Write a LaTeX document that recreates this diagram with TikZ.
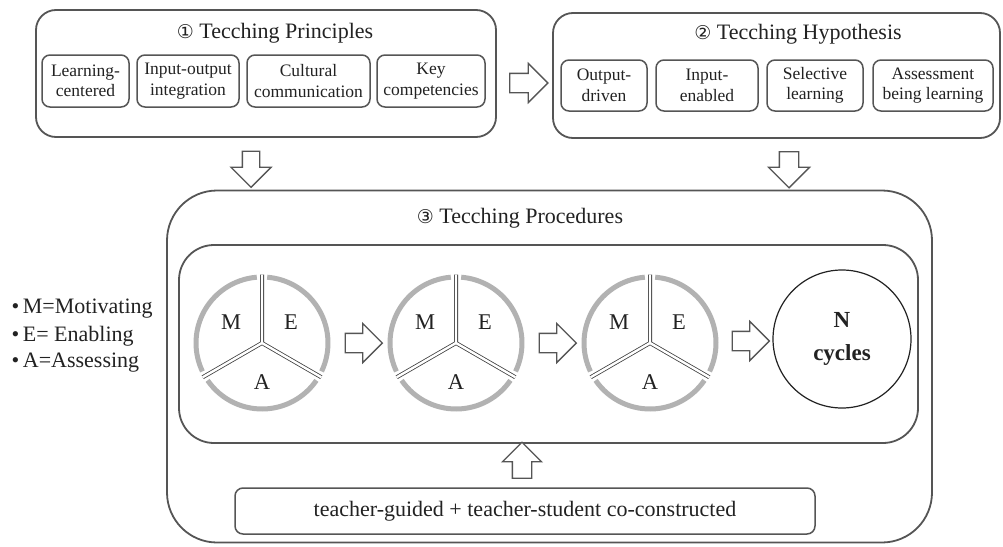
\documentclass[tikz,border=0pt]{standalone}
\usepackage{fontspec}
\setmainfont{Liberation Serif}
\newfontfamily\circfont{DejaVu Sans}
\usetikzlibrary{shapes.arrows,calc}

\definecolor{linegray}{HTML}{555555}
\definecolor{ringgray}{HTML}{B2B2B2}
\definecolor{inkcol}{HTML}{222222}

\tikzset{
  panel/.style={draw=linegray, line width=1.8pt, inner sep=0pt},
  item/.style={draw=linegray, line width=1.5pt, rounded corners=8pt,
    align=center, text=inkcol, inner sep=0pt,
    font=\fontsize{17.5}{20.5}\selectfont},
  paneltitle/.style={text=inkcol, font=\fontsize{22}{26}\selectfont},
  legendtext/.style={text=inkcol, anchor=west, font=\fontsize{22}{26}\selectfont},
  barrow/.style={single arrow, draw=linegray, line width=1.3pt, fill=white,
    inner xsep=0pt, inner ysep=9pt, minimum height=37pt,
    single arrow head extend=10pt},
  ring/.style={draw=ringgray, line width=5pt},
  divider/.style={draw=black!75, line width=0.8pt, double=white,
    double distance=2.4pt},
  mea/.style={text=inkcol, font=\fontsize{22.5}{26}\selectfont},
}

% one Motivating / Enabling / Assessing cycle: #1 name, #2 centre
\newcommand\meacycle[2]{%
  \node[circle, inner sep=0pt, minimum size=138pt] (#1) at #2 {};
  \foreach \a in {90,210,330}{%
    \draw[ring] (#1.center) ++(\a+4.5:66pt)
      arc[start angle=\a+4.5, end angle=\a+115.5, radius=66pt];
  }
  \draw[divider] (#1.center) -- ++(90:68.5pt)
                 (#1.center) -- ++(210:68.5pt)
                 (#1.center) -- ++(330:68.5pt);
  \node[mea] (#1-m) at ($(#1)+(-31,-21)$) {M};
  \node[mea] (#1-e) at ($(#1)+(29,-21)$) {E};
  \node[mea] (#1-a) at ($(#1)+(0,39)$) {A};
}

\begin{document}
\begin{tikzpicture}[x=1pt,y=-1pt]
\useasboundingbox (0,0) rectangle (1003,546);
\fill[white] (0,0) rectangle (1003,546);

% ---- panel 1: principles
\node[panel, rounded corners=20pt, minimum width=460pt, minimum height=127pt]
  (principles) at (266,73.5) {};
\node[paneltitle] (t1) at (275,33) {{\circfont\fontsize{19}{22}\selectfont ①} Tecching Principles};
\node[item, minimum width=87pt,  minimum height=52pt] (p1) at (85.5,81) {Learning-\\centered};
\node[item, minimum width=102pt, minimum height=52pt] (p2) at (188,81) {Input-output\\integration};
\node[item, minimum width=123pt, minimum height=52pt] (p3) at (308.5,81) {Cultural\\communication};
\node[item, minimum width=108pt, minimum height=52pt] (p4) at (431,81) {Key\\competencies};

% ---- panel 2: hypothesis
\node[panel, rounded corners=20pt, minimum width=447pt, minimum height=125pt]
  (hypothesis) at (776.5,75.5) {};
\node[paneltitle] (t2) at (798,34) {{\circfont\fontsize{19}{22}\selectfont ②} Tecching Hypothesis};
\node[item, minimum width=86pt,  minimum height=51pt] (h1) at (604,85.5) {Output-\\driven};
\node[item, minimum width=102pt, minimum height=51pt] (h2) at (707,85.5) {Input-\\enabled};
\node[item, minimum width=96pt,  minimum height=51pt] (h3) at (815,85.5) {Selective\\learning};
\node[item, minimum width=120pt, minimum height=51pt] (h4) at (933,85.5) {Assessment\\being learning};

% ---- panel 3: procedures
\node[panel, rounded corners=50pt, minimum width=765pt, minimum height=352pt]
  (procedures) at (549.5,366.5) {};
\node[paneltitle] (t3) at (520,218) {{\circfont\fontsize{19}{22}\selectfont ③} Tecching Procedures};
\node[panel, rounded corners=35pt, minimum width=739pt, minimum height=198pt]
  (cycles) at (548.5,344) {};

\meacycle{c1}{(262,343)}
\meacycle{c2}{(456,343)}
\meacycle{c3}{(650,343)}
\node[circle, draw=inkcol, line width=1.2pt, minimum size=138pt, inner sep=0pt,
  align=center, text=inkcol, font=\bfseries\fontsize{23}{33}\selectfont]
  (nc) at (842,339) {N\\cycles};

\node[item, minimum width=580pt, minimum height=46pt, font=\fontsize{22}{26}\selectfont]
  (support) at (525,511) {teacher-guided + teacher-student co-constructed};

% ---- block arrows
\node[barrow, minimum height=38pt] (a12) at (524,83) {};
\node[barrow, rotate=-90, minimum height=36pt, inner ysep=8pt, single arrow head extend=11.5pt] (d1) at (251,165) {};
\node[barrow, rotate=-90, minimum height=36pt, inner ysep=9pt, single arrow head extend=11pt] (d2) at (789,165) {};
\node[barrow] (s1) at ($(c1)!0.5!(c2)$) {};
\node[barrow] (s2) at ($(c2)!0.5!(c3)$) {};
\node[barrow] (s3) at ($(c3)!0.5!(nc)$) {};
\node[barrow, rotate=90, minimum height=36pt] (up) at (522,465) {};

% ---- legend
\node[legendtext] (lm) at (8,309) {\textbullet\,M=Motivating};
\node[legendtext] (le) at (8,336) {\textbullet\,E= Enabling};
\node[legendtext] (la) at (8,363) {\textbullet\,A=Assessing};
\end{tikzpicture}
\end{document}
